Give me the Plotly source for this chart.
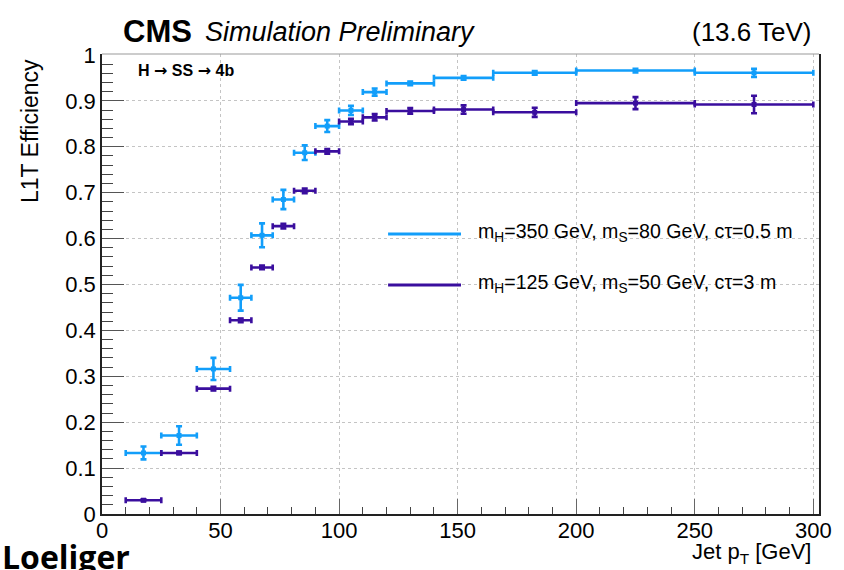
import plotly.graph_objects as go

# ---- data ----
bin_edges = [10, 25, 40, 54, 63, 72, 81, 90, 100, 110, 120, 140, 165, 200, 250, 300]
eff_mH350 = [0.133, 0.171, 0.316, 0.471, 0.607, 0.685, 0.787, 0.845, 0.879, 0.919,
             0.938, 0.950, 0.961, 0.966, 0.961]
err_mH350 = [0.014, 0.020, 0.024, 0.028, 0.026, 0.021, 0.016, 0.013, 0.010, 0.008,
             0.004, 0.004, 0.004, 0.004, 0.009]
eff_mH125 = [0.030, 0.133, 0.273, 0.422, 0.537, 0.627, 0.704, 0.790, 0.855, 0.864,
             0.878, 0.881, 0.875, 0.895, 0.892]
err_mH125 = [0.002, 0.003, 0.004, 0.004, 0.004, 0.005, 0.005, 0.005, 0.006, 0.007,
             0.006, 0.009, 0.010, 0.013, 0.019]
label_350 = "m<sub>H</sub>=350 GeV, m<sub>S</sub>=80 GeV, cτ=0.5 m"
label_125 = "m<sub>H</sub>=125 GeV, m<sub>S</sub>=50 GeV, cτ=3 m"
xtick_vals = [0, 50, 100, 150, 200, 250, 300]

centers = [(a + b) / 2 for a, b in zip(bin_edges[:-1], bin_edges[1:])]
halfw = [(b - a) / 2 for a, b in zip(bin_edges[:-1], bin_edges[1:])]

C_BLUE = "rgb(18,158,250)"
C_PURP = "rgb(58,14,158)"
FONT = "Liberation Sans, Arial, Helvetica, sans-serif"

fig = go.Figure()
for eff, err, col in [(eff_mH350, err_mH350, C_BLUE), (eff_mH125, err_mH125, C_PURP)]:
    fig.add_trace(go.Scatter(
        x=centers, y=eff, mode="markers",
        marker=dict(symbol="square", size=5, color=col),
        error_x=dict(type="data", array=halfw, color=col, thickness=2.6, width=3),
        error_y=dict(type="data", array=err, color=col, thickness=2.6, width=3),
        showlegend=False, cliponaxis=False,
    ))

fig.update_layout(
    width=844, height=570,
    margin=dict(l=102, r=25, t=54, b=56),
    paper_bgcolor="white", plot_bgcolor="white",
    font=dict(family=FONT, color="black"),
    showlegend=False,
)
fig.update_xaxes(
    range=[0, 302.4], tickvals=xtick_vals, ticks="inside", ticklen=15, tickwidth=1,
    tickcolor="#666", showline=True, linecolor="#222", linewidth=1.5, mirror=False,
    showgrid=True, gridcolor="#c4c4c4", griddash="dot", gridwidth=1, zeroline=False,
    tickfont=dict(size=22, family=FONT), ticklabelstandoff=-4,
    minor=dict(dtick=10, ticks="inside", ticklen=7, tickcolor="#444", showgrid=False),
)
fig.update_yaxes(
    range=[0, 1.002], dtick=0.1, tick0=0, ticks="inside", ticklen=22, tickwidth=1,
    tickcolor="#555", showline=True, linecolor="#222", linewidth=1.5, mirror=True,
    showgrid=True, gridcolor="#c4c4c4", griddash="dot", gridwidth=1, zeroline=False,
    tickfont=dict(size=22, family=FONT), ticklabelstandoff=0,
    minor=dict(dtick=0.02, ticks="inside", ticklen=11, tickcolor="#444", showgrid=False),
)

# top frame
fig.add_shape(type="line", xref="paper", yref="paper", x0=0, x1=1, y0=1, y1=1,
              line=dict(color="#999", width=1))

# legend (ROOT style) drawn in paper coordinates
for ly, col, lab in [(0.6087, C_BLUE, label_350), (0.4978, C_PURP, label_125)]:
    fig.add_shape(type="line", xref="paper", yref="paper", x0=0.399, x1=0.5007,
                  y0=ly, y1=ly, line=dict(color=col, width=3))
    fig.add_annotation(xref="paper", yref="paper", x=0.5216, y=ly + 0.004, xanchor="left",
                       yanchor="middle", text=lab, showarrow=False,
                       font=dict(size=19.6, family=FONT, color="black"))

# texts
fig.add_annotation(xref="paper", yref="paper", x=(121 - 102) / 717, y=1.048, xanchor="left",
                   yanchor="middle", text="<b>CMS</b>", showarrow=False,
                   font=dict(size=31, family=FONT, color="black"))
fig.add_annotation(xref="paper", yref="paper", x=(203 - 102) / 717, y=1.048, xanchor="left",
                   yanchor="middle", text="<i>Simulation Preliminary</i>", showarrow=False,
                   font=dict(size=27, family=FONT, color="black"))
fig.add_annotation(xref="x", yref="paper", x=300, y=1.048, xanchor="right",
                   yanchor="middle", text="(13.6 TeV)", showarrow=False,
                   font=dict(size=26, family=FONT, color="black"))
arrow = '<span style="font-family:DejaVu Sans">→</span>'
fig.add_annotation(xref="paper", yref="paper", x=(136 - 102) / 717, y=0.965, xanchor="left",
                   yanchor="middle", text=f"<b>H {arrow} SS {arrow} 4b</b>", showarrow=False,
                   font=dict(size=16, family=FONT, color="black"))
fig.add_annotation(xref="paper", yref="paper", x=(30 - 102) / 717, y=(514 - 131) / 460,
                   xanchor="center", yanchor="middle", textangle=-90,
                   text="L1T Efficiency", showarrow=False,
                   font=dict(size=23, family=FONT, color="black"))
fig.add_annotation(xref="x", yref="paper", x=300, y=-0.05, xanchor="right",
                   yanchor="top", text="Jet p<sub>T</sub> [GeV]", showarrow=False,
                   font=dict(size=22, family=FONT, color="black"))
fig.add_annotation(xref="paper", yref="paper", x=-102 / 717, y=(514 - 533) / 460,
                   xanchor="left", yanchor="top", text="<b>Loeliger</b>", showarrow=False,
                   font=dict(size=32, family="Open Sans, sans-serif", color="black"))

fig.write_html("out.html")
